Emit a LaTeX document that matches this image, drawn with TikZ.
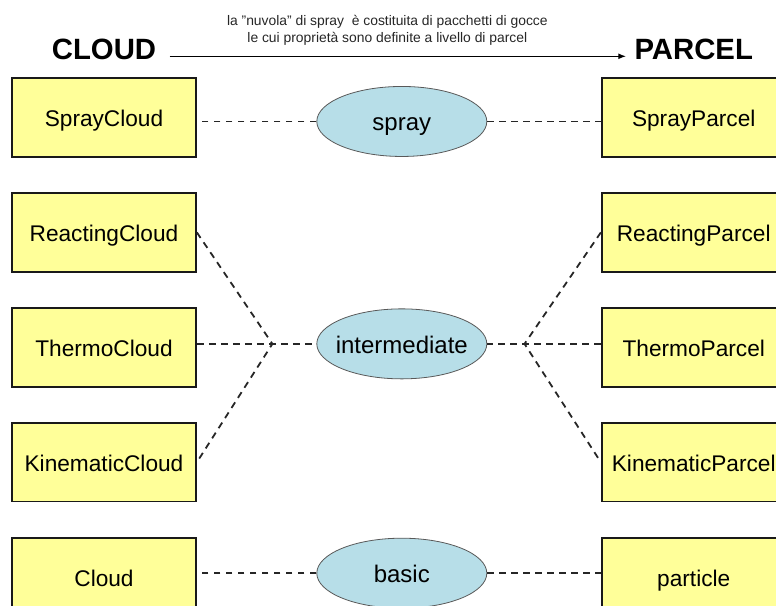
\documentclass[tikz,border=0pt]{standalone}
\usepackage{fontspec}
\setmainfont{Liberation Sans}
\usepackage{tikz}
\usetikzlibrary{
  arrows.meta,
  calc,
  positioning,
  shapes,
}
\definecolor{boxyellow}{RGB}{255,255,153}
\definecolor{layerblue}{RGB}{183,222,232}
\tikzstyle{classbox} = [
  rectangle,
  draw=black!90,
  line width=1.3pt,
  fill=boxyellow,
  minimum width=138pt,
  minimum height=59pt,
  inner sep=0pt,
  text height=17pt,
  text depth=3pt,
  font=\fontsize{17}{20}\selectfont,
]
\tikzstyle{layer} = [
  ellipse,
  draw=black!65,
  line width=0.6pt,
  fill=layerblue,
  minimum width=127.5pt,
  minimum height=52.5pt,
  inner xsep=-6pt,
  inner ysep=-4pt,
  text height=18pt,
  text depth=4pt,
  font=\fontsize{18}{21}\selectfont,
]
\tikzstyle{link} = [
  line width=1.35pt,
  black!85,
  dash pattern=on 5pt off 4pt,
]
\tikzstyle{title} = [
  inner sep=0pt,
  font=\bfseries\fontsize{22}{26}\selectfont,
]

\begin{document}
\begin{tikzpicture}[node distance=25.9pt and 303pt]
      \useasboundingbox (0,0) rectangle (582pt,-454.5pt);

      % cloud classes on the left
      \node[classbox] (sprayCloud) at (78pt,-88.1pt) {SprayCloud};
      \node[classbox] (reactingCloud)  [below=of sprayCloud]     {ReactingCloud};
      \node[classbox] (thermoCloud)    [below=of reactingCloud]  {ThermoCloud};
      \node[classbox] (kinematicCloud) [below=of thermoCloud]    {KinematicCloud};
      \node[classbox] (cloud)          [below=of kinematicCloud] {Cloud};

      % parcel classes on the right
      \node[classbox] (sprayParcel)     [right=of sprayCloud]     {SprayParcel};
      \node[classbox] (reactingParcel)  [below=of sprayParcel]    {ReactingParcel};
      \node[classbox] (thermoParcel)    [below=of reactingParcel] {ThermoParcel};
      \node[classbox] (kinematicParcel) [below=of thermoParcel]   {KinematicParcel};
      \node[classbox] (particle)        [below=of kinematicParcel] {particle};

      % layers in between
      \node[layer] (spray)        at ($(sprayCloud)!0.5!(sprayParcel)+(2.2pt,-3pt)$)   {spray};
      \node[layer] (intermediate) at ($(thermoCloud)!0.5!(thermoParcel)+(2.2pt,2.6pt)$) {intermediate};
      \node[layer] (basic)        at ($(cloud)!0.5!(particle)+(2.2pt,3pt)$)           {basic};

      % headings
      \node[title] (cloudTitle)  [above=12.75pt of sprayCloud]  {CLOUD};
      \node[title] (parcelTitle) [above=12.75pt of sprayParcel] {PARCEL};
      \draw[-{Latex[length=6pt,width=4.5pt]}, line width=1.1pt]
        ([xshift=10pt,yshift=-5pt]cloudTitle.east) -- ([xshift=-6pt,yshift=-5pt]parcelTitle.west)
        node[midway, above=8pt, xshift=-8pt, inner sep=0pt, align=center,
             font=\fontsize{10.4}{12.75}\selectfont, text=black!85] (note)
        {la "nuvola" di spray\ \ è costituita di pacchetti di gocce\\
         le cui proprietà sono definite a livello di parcel};

      % spray and basic links
      \draw[link] (spray.west) -- (spray.west -| sprayCloud.east);
      \draw[link] (spray.east) -- (spray.east -| sprayParcel.west);
      \draw[link] (basic.west) -- (basic.west -| cloud.east);
      \draw[link] (basic.east) -- (basic.east -| particle.west);

      % intermediate forks
      \coordinate (forkL) at ([xshift=-33pt]intermediate.west);
      \coordinate (forkR) at ([xshift=28pt]intermediate.east);
      \draw[link] (reactingCloud.east) -- (forkL) -- (kinematicCloud.east);
      \draw[link] (forkL -| thermoCloud.east) -- (intermediate.west);
      \draw[link] (reactingParcel.west) -- (forkR) -- (kinematicParcel.west);
      \draw[link] (forkR -| thermoParcel.west) -- (intermediate.east);
    \end{tikzpicture}
\end{document}
